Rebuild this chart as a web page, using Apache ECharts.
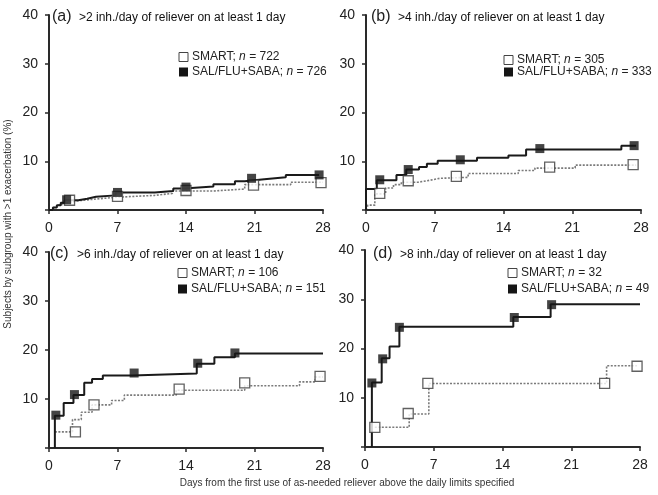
<!DOCTYPE html>
<html><head><meta charset="utf-8">
<script src="https://cdn.jsdelivr.net/npm/echarts@6/dist/echarts.min.js"></script>
<style>html,body{margin:0;padding:0;background:#fff}#c{width:658px;height:495px}</style>
</head><body><div id="c"></div>
<script>
// ---- data ----
const dayTicks = [0, 7, 14, 21, 28];
const pctTicks = [0, 10, 20, 30, 40];
const panelLetters = ['(a)', '(b)', '(c)', '(d)'];
const panelTitles = ['>2 inh./day of reliever on at least 1 day', '>4 inh./day of reliever on at least 1 day',
  '>6 inh./day of reliever on at least 1 day', '>8 inh./day of reliever on at least 1 day'];
const smartN = [722, 305, 106, 32];
const salN = [726, 333, 151, 49];
const seriesNames = ['SMART', 'SAL/FLU+SABA'];

// step curves [day, %] (value from that day on)
const aSmart = [[0,0],[0.4,0.5],[0.8,1.0],[1.3,1.5],[1.9,1.9],[3.0,2.2],[4.5,2.6],[6.8,3.0],[10.8,3.4],[12.6,3.9],[16.8,4.3],[20.0,5.2],[24.7,5.7],[28,5.7]];
const aSal = [[0,0],[0.4,0.5],[0.8,1.0],[1.2,1.5],[1.6,2.0],[3.0,2.3],[3.9,2.7],[4.8,3.0],[6.8,3.6],[10.8,3.9],[12.7,4.4],[13.8,4.8],[16.8,5.3],[19.0,5.9],[20.0,6.3],[22.0,6.7],[24.2,7.2],[27.6,7.2]];
const bSmart = [[0,0],[0.2,1.0],[0.9,3.3],[2.0,4.5],[2.8,5.2],[3.6,5.7],[5.3,6.1],[6.5,6.5],[7.5,6.7],[10.4,7.5],[15.5,8.1],[17.2,8.6],[21.3,9.2],[27.5,9.2]];
const bSal = [[0,0],[0,4.3],[1.1,6.1],[3.1,7.2],[4.1,8.3],[5.4,8.8],[6.2,9.5],[7.3,10.1],[11.3,10.7],[14.5,11.2],[16.3,12.4],[26.0,13.2],[27.5,13.2]];
const cSmart = [[0.6,3.3],[2.4,5.8],[3.3,7.3],[4.4,8.8],[6.4,9.7],[7.7,10.8],[13.0,11.8],[20.0,12.7],[25.6,13.5],[27.2,14.5],[28,14.5]];
const cSal = [[0.6,0],[0.6,6.6],[1.5,9.2],[2.5,10.8],[3.6,13.3],[4.4,14.1],[5.5,14.8],[8.5,15.2],[15.1,17.2],[16.9,18.5],[19.0,19.3],[28,19.3]];
const dSmart = [[1.0,4.0],[4.5,6.7],[6.5,12.9],[24.6,16.5],[27.7,16.5]];
const dSal = [[0.7,0],[0.7,13.1],[1.7,18.0],[2.5,20.4],[3.5,24.4],[15.1,26.4],[18.9,29.0],[28,29.0]];

// marker points [day, %]
const aSmartPts = [[2.1,2.0],[7.0,2.8],[14.0,4.0],[20.9,5.1],[27.8,5.6]];
const aSalPts = [[1.8,2.1],[7.0,3.6],[14.0,4.7],[20.7,6.5],[27.6,7.2]];
const bSmartPts = [[1.4,3.4],[4.3,6.0],[9.2,6.9],[18.7,8.8],[27.2,9.3]];
const bSalPts = [[1.4,6.2],[4.3,8.3],[9.6,10.3],[17.7,12.6],[27.3,13.2]];
const cSmartPts = [[2.7,3.3],[4.6,8.8],[13.3,12.0],[20.0,13.3],[27.7,14.6]];
const cSalPts = [[0.7,6.7],[2.6,10.9],[8.7,15.3],[15.2,17.3],[19.0,19.4]];
const dSmartPts = [[1.0,4.0],[4.4,6.8],[6.4,12.9],[24.4,12.9],[27.7,16.4]];
const dSalPts = [[0.7,13.0],[1.8,17.9],[3.5,24.3],[15.2,26.3],[19.0,28.9]];

const smartCurves = [aSmart, bSmart, cSmart, dSmart];
const salCurves = [aSal, bSal, cSal, dSal];
const smartPts = [aSmartPts, bSmartPts, cSmartPts, dSmartPts];
const salPts = [aSalPts, bSalPts, cSalPts, dSalPts];

// ---- layout ----
const FONT = '"Liberation Sans", Arial, sans-serif';
const grids = [
  {left: 49, top: 15, width: 274, height: 195},
  {left: 366, top: 15, width: 275, height: 195},
  {left: 49, top: 252, width: 274, height: 196},
  {left: 365, top: 250, width: 275, height: 197}
];
const titlePos = [[52, 19], [371, 19], [50, 256], [373, 256]];
const legendPos = [[183, 57, 72], [508, 60, 72], [182, 273, 289], [512, 273, 289]];

const axisLineStyle = {color: '#2a2a2a', width: 2};
const xAxes = [], yAxes = [], series = [], graphics = [];
grids.forEach((g, i) => {
  xAxes.push({
    gridIndex: i, type: 'value', min: dayTicks[0], max: dayTicks[dayTicks.length - 1],
    interval: dayTicks[1] - dayTicks[0],
    axisLine: {show: true, lineStyle: axisLineStyle},
    axisTick: {show: true, length: 4, lineStyle: {color: '#2a2a2a', width: 1.5}},
    axisLabel: {margin: 11, fontSize: 14, color: '#222', fontFamily: FONT},
    splitLine: {show: false}
  });
  yAxes.push({
    gridIndex: i, type: 'value', min: pctTicks[0], max: pctTicks[pctTicks.length - 1],
    interval: pctTicks[1] - pctTicks[0],
    axisLine: {show: true, lineStyle: axisLineStyle},
    axisTick: {show: true, length: 4, lineStyle: {color: '#2a2a2a', width: 1.5}},
    axisLabel: {margin: 11, fontSize: 14, color: '#222', fontFamily: FONT,
      formatter: v => (v === 0 ? '' : String(v))},
    splitLine: {show: false}
  });
  series.push({
    name: seriesNames[0], type: 'line', xAxisIndex: i, yAxisIndex: i, step: 'end',
    data: smartCurves[i], showSymbol: false, symbol: 'none',
    lineStyle: {color: '#7a7a7a', width: 1.6, type: [2, 1.5]}, z: 2, silent: true, animation: false
  });
  series.push({
    name: seriesNames[1], type: 'line', xAxisIndex: i, yAxisIndex: i, step: 'end',
    data: salCurves[i], showSymbol: false, symbol: 'none',
    lineStyle: {color: '#1a1a1a', width: 2}, z: 3, silent: true, animation: false
  });
  series.push({
    type: 'scatter', xAxisIndex: i, yAxisIndex: i, data: smartPts[i], symbol: 'rect', symbolSize: 10,
    itemStyle: {color: '#fff', borderColor: '#3a3a3a', borderWidth: 1.3}, z: 4, silent: true, animation: false
  });
  series.push({
    type: 'scatter', xAxisIndex: i, yAxisIndex: i, data: salPts[i], symbol: 'rect', symbolSize: 9,
    itemStyle: {color: '#151515'}, z: 5, silent: true, animation: false
  });
  const [tx, ty] = titlePos[i];
  graphics.push({type: 'text', left: tx, top: ty - 10, style: {text: panelLetters[i], font: '16px ' + FONT, fill: '#222'}});
  graphics.push({type: 'text', left: tx + 27, top: ty - 7, style: {text: panelTitles[i], font: '12px ' + FONT, fill: '#111'}});
  const [lx, ly1, ly2] = legendPos[i];
  graphics.push({type: 'rect', shape: {x: lx - 4, y: ly1 - 4.5, width: 9, height: 9},
    style: {fill: '#fff', stroke: '#444', lineWidth: 1}});
  graphics.push({type: 'rect', shape: {x: lx - 4, y: ly2 - 4.5, width: 9, height: 9},
    style: {fill: '#151515'}});
  graphics.push({type: 'text', x: lx + 9, y: ly1, style: {
    text: seriesNames[0] + '; {i|n} = ' + smartN[i], font: '12px ' + FONT, fill: '#222', verticalAlign: 'middle',
    rich: {i: {fontStyle: 'italic', fontSize: 12, fontFamily: FONT, fill: '#222'}}}});
  graphics.push({type: 'text', x: lx + 9, y: ly2, style: {
    text: seriesNames[1] + '; {i|n} = ' + salN[i], font: '12px ' + FONT, fill: '#222', verticalAlign: 'middle',
    rich: {i: {fontStyle: 'italic', fontSize: 12, fontFamily: FONT, fill: '#222'}}}});
});
graphics.push({type: 'text', x: 8, y: 224, rotation: Math.PI / 2, style: {
  text: 'Subjects by subgroup with >1 exacerbation (%)', font: '10px ' + FONT, fill: '#333',
  align: 'center', verticalAlign: 'middle'}});
graphics.push({type: 'text', x: 347, y: 483, style: {
  text: 'Days from the first use of as-needed reliever above the daily limits specified', font: '10px ' + FONT, fill: '#333',
  align: 'center', verticalAlign: 'middle'}});

const chart = echarts.init(document.getElementById('c'), null, {renderer: 'canvas'});
chart.setOption({
  animation: false,
  backgroundColor: '#fff',
  grid: grids.map(g => Object.assign({containLabel: false}, g)),
  xAxis: xAxes, yAxis: yAxes, series: series, graphic: graphics
});
</script></body></html>
